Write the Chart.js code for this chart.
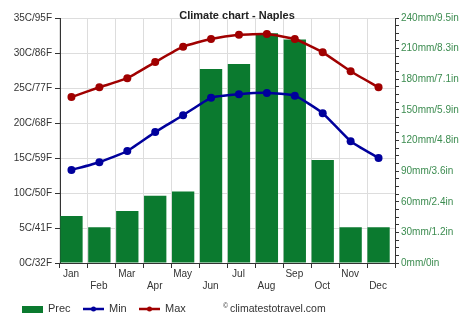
<!DOCTYPE html>
<html><head><meta charset="utf-8">
<script src="https://cdn.jsdelivr.net/npm/chart.js@4.4.1/dist/chart.umd.min.js"></script>
<style>html,body{margin:0;padding:0;background:#fff}#wrap{width:474px;height:331px}</style>
</head><body><div id="wrap"><canvas id="c" width="474" height="331"></canvas></div>
<script>
const months = ['Jan','Feb','Mar','Apr','May','Jun','Jul','Aug','Sep','Oct','Nov','Dec'];
const precMm = [46, 35, 51, 66, 70, 190, 195, 225, 219, 101, 35, 35];
const minC = [13.3, 14.4, 16.0, 18.7, 21.1, 23.6, 24.1, 24.3, 23.9, 21.4, 17.4, 15.0];
const maxC = [23.7, 25.1, 26.4, 28.7, 30.9, 32.0, 32.6, 32.7, 32.0, 30.1, 27.4, 25.1];
const tempTickLabels = ['0C/32F','5C/41F','10C/50F','15C/59F','20C/68F','25C/77F','30C/86F','35C/95F'];
const precTickLabels = ['0mm/0in','30mm/1.2in','60mm/2.4in','90mm/3.6in','120mm/4.8in','150mm/5.9in','180mm/7.1in','210mm/8.3in','240mm/9.5in'];

const FONT = 'Liberation Sans, Arial, sans-serif';
const GREEN = '#0b7a2f', BLUE = '#00009c', RED = '#a00000';
const SHIFT = -2.5; // marks sit slightly left of category centre in the reference

const shiftMarks = {
  id: 'shiftMarks',
  beforeDatasetsDraw(chart) { chart.ctx.save(); chart.ctx.translate(SHIFT, 0); },
  afterDatasetsDraw(chart) { chart.ctx.restore(); }
};

const overlay = {
  id: 'overlay',
  afterDraw(chart) {
    const ctx = chart.ctx;
    ctx.save();
    ctx.fillStyle = '#222';
    ctx.font = 'bold 11px ' + FONT;
    ctx.textAlign = 'center';
    ctx.textBaseline = 'middle';
    ctx.fillText('Climate chart - Naples', 237, 16);
    const ly = 309;
    ctx.textAlign = 'left';
    ctx.font = '11px ' + FONT;
    ctx.fillStyle = GREEN;
    ctx.fillRect(22, 306, 21, 7);
    ctx.fillStyle = '#333';
    ctx.fillText('Prec', 48, ly);
    [[83, BLUE, 'Min', 109], [139, RED, 'Max', 165]].forEach(([x, col, t, tx]) => {
      ctx.strokeStyle = col; ctx.lineWidth = 2.5;
      ctx.beginPath(); ctx.moveTo(x, ly); ctx.lineTo(x + 21, ly); ctx.stroke();
      ctx.fillStyle = col; ctx.beginPath(); ctx.arc(x + 10.5, ly, 2.5, 0, Math.PI * 2); ctx.fill();
      ctx.fillStyle = '#333'; ctx.fillText(t, tx, ly);
    });
    ctx.font = '7px ' + FONT;
    ctx.fillText('\u00a9', 223, ly - 3);
    ctx.font = '10.5px ' + FONT;
    ctx.fillText('climatestotravel.com', 230, ly);
    ctx.restore();
  }
};

new Chart(document.getElementById('c'), {
  data: {
    labels: months,
    datasets: [
      { type: 'line', label: 'Max', data: maxC, yAxisID: 'y', borderColor: RED, backgroundColor: RED,
        borderWidth: 2.5, pointRadius: 4, pointBorderWidth: 0, pointHoverRadius: 4, tension: 0.15, order: 1 },
      { type: 'line', label: 'Min', data: minC, yAxisID: 'y', borderColor: BLUE, backgroundColor: BLUE,
        borderWidth: 2.5, pointRadius: 4, pointBorderWidth: 0, pointHoverRadius: 4, tension: 0.15, order: 2 },
      { type: 'bar', label: 'Prec', data: precMm, yAxisID: 'y2', backgroundColor: GREEN,
        barPercentage: 0.8, categoryPercentage: 1.0, order: 3 }
    ]
  },
  options: {
    responsive: false, animation: false, devicePixelRatio: 1,
    layout: { padding: { top: 18, bottom: 33, left: 0, right: 0 } },
    plugins: { legend: { display: false }, title: { display: false }, tooltip: { enabled: false } },
    scales: {
      x: {
        grid: { offset: true, color: '#dddddd', tickColor: '#333', tickLength: 5, drawTicks: true },
        border: { color: '#333', width: 1 },
        ticks: { color: '#333', font: { size: 10, family: FONT }, padding: 0, maxRotation: 0, autoSkip: false,
          labelOffset: -3,
          callback: (v, i) => i % 2 === 0 ? [months[i]] : ['', months[i]] },
        afterFit: s => { s.height = 35; }
      },
      y: {
        position: 'left', min: 0, max: 35,
        grid: { color: '#dddddd', tickColor: '#333', tickLength: 5 },
        border: { color: '#333', width: 1 },
        ticks: { stepSize: 5, color: '#333', font: { size: 10, family: FONT }, padding: 3,
          callback: v => tempTickLabels[Math.round(v / 5)] },
        afterFit: s => { s.width = 60; }
      },
      y2: {
        position: 'right', min: 0, max: 240,
        grid: { drawOnChartArea: false, tickColor: '#333', tickLength: 4 },
        border: { color: '#333', width: 1 },
        ticks: { stepSize: 7.5, autoSkip: false, color: '#3c8c50', font: { size: 10, family: FONT }, padding: 2,
          callback: v => (Math.abs(v % 30) < 1e-6) ? precTickLabels[Math.round(v / 30)] : '' },
        afterFit: s => { s.width = 79; }
      }
    }
  },
  plugins: [shiftMarks, overlay]
});
</script></body></html>
